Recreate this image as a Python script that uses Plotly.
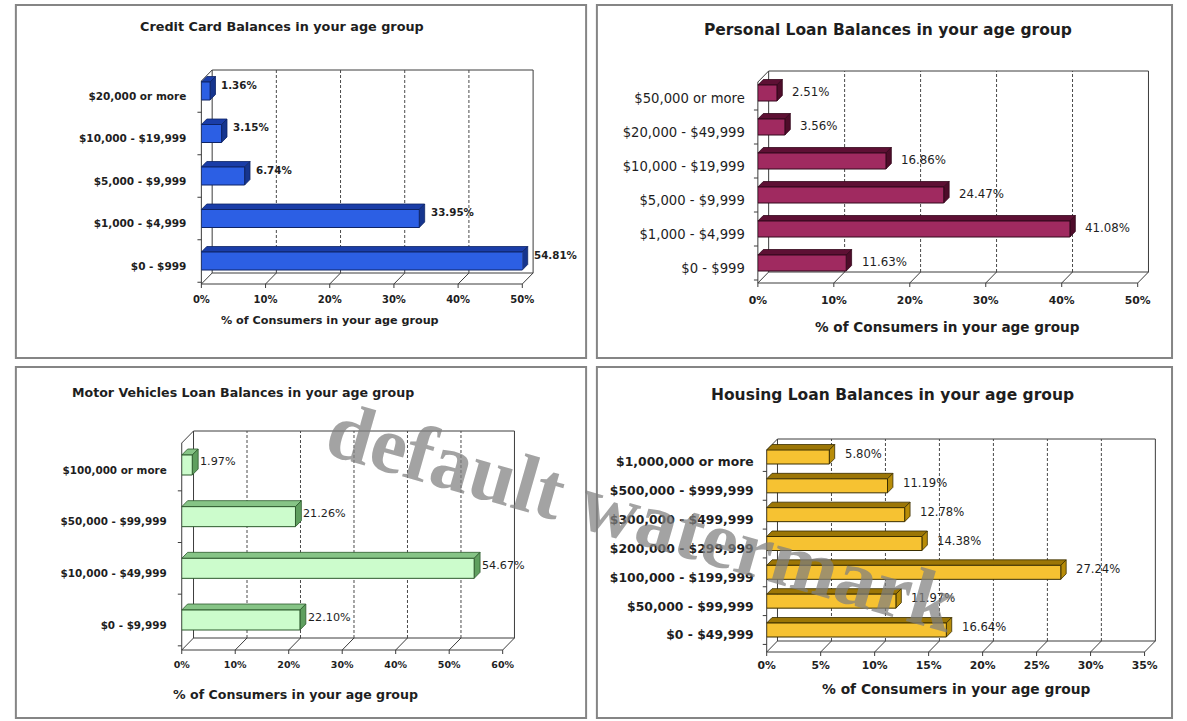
import plotly.graph_objects as go

W, H = 1187, 721

# ---------------- data (categories listed bottom to top) ----------------
cc_cats = ["$0 - $999", "$1,000 - $4,999", "$5,000 - $9,999",
           "$10,000 - $19,999", "$20,000 or more"]
cc_vals = [54.81, 33.95, 6.74, 3.15, 1.36]

pl_cats = ["$0 - $999", "$1,000 - $4,999", "$5,000 - $9,999",
           "$10,000 - $19,999", "$20,000 - $49,999", "$50,000 or more"]
pl_vals = [11.63, 41.08, 24.47, 16.86, 3.56, 2.51]

mv_cats = ["$0 - $9,999", "$10,000 - $49,999", "$50,000 - $99,999",
           "$100,000 or more"]
mv_vals = [22.10, 54.67, 21.26, 1.97]

hl_cats = ["$0 - $49,999", "$50,000 - $99,999", "$100,000 - $199,999",
           "$200,000 - $299,999", "$300,000 - $499,999",
           "$500,000 - $999,999", "$1,000,000 or more"]
hl_vals = [16.64, 11.97, 27.24, 14.38, 12.78, 11.19, 5.80]

axis_title = "% of Consumers in your age group"
watermark = "default watermark"

SANS = "DejaVu Sans, Verdana, sans-serif"
SERIF = "Liberation Serif, Times New Roman, serif"
INK = "#1e1e1e"

panels = [
    dict(title="Credit Card Balances in your age group", cats=cc_cats, vals=cc_vals,
         xmax=50, step=10,
         face="#2c5fe4", top="#1a3da8", side="#16358e", edge="#0e2466",
         frame=(7, 5, 588, 358), x0=196, x1=523, ybot=284, ytop=81,
         ddx=11, ddy=11, cb=261, ct=91, bar_h=18,
         title_xy=(278, 27), title_size=12.8, at_xy=(327, 320), at_size=11.2,
         tick_size=10, tick_w=700, cat_size=10.5, cat_w=700,
         val_size=10.3, val_w=700, val_gap=4, val_dy=6, xstand=8, ystand=14),
    dict(title="Personal Loan Balances in your age group", cats=pl_cats, vals=pl_vals,
         xmax=50, step=10,
         face="#a02a60", top="#5e1034", side="#4e0c2a", edge="#33081c",
         frame=(599, 5, 1185, 358), x0=763, x1=1150, ybot=283, ytop=82,
         ddx=11, ddy=11, cb=263, ct=93, bar_h=16,
         title_xy=(896, 30), title_size=15.5, at_xy=(956, 327), at_size=13.6,
         tick_size=10.8, tick_w=700, cat_size=13.2, cat_w=400,
         val_size=11.8, val_w=400, val_gap=8, val_dy=1, xstand=9, ystand=12),
    dict(title="Motor Vehicles Loan Balances in your age group", cats=mv_cats, vals=mv_vals,
         xmax=60, step=10,
         face="#ccfccc", top="#86c486", side="#5f9f5f", edge="#2d5a2d",
         frame=(7, 367, 588, 718), x0=176, x1=503, ybot=650, ytop=443,
         ddx=12, ddy=12, cb=620, ct=465, bar_h=20,
         title_xy=(238, 392), title_size=12.6, at_xy=(292, 694), at_size=12.6,
         tick_size=9.5, tick_w=700, cat_size=10.4, cat_w=700,
         val_size=11.2, val_w=400, val_gap=0, val_dy=3, xstand=7, ystand=14),
    dict(title="Housing Loan Balances in your age group", cats=hl_cats, vals=hl_vals,
         xmax=35, step=5,
         face="#f6c232", top="#9c7606", side="#b88c08", edge="#3a2e00",
         frame=(599, 367, 1185, 718), x0=772, x1=1157, ybot=652, ytop=450,
         ddx=11, ddy=11, cb=630, ct=457, bar_h=14,
         title_xy=(900, 395), title_size=15.5, at_xy=(965, 689), at_size=13.8,
         tick_size=10.8, tick_w=700, cat_size=12.4, cat_w=700,
         val_size=11.6, val_w=400, val_gap=8, val_dy=3, xstand=5, ystand=12),
]

fig = go.Figure()
layout = dict(width=W, height=H, margin=dict(l=0, r=0, t=0, b=0),
              paper_bgcolor="white", plot_bgcolor="rgba(0,0,0,0)",
              showlegend=False, annotations=[], shapes=[])


def ax_names(k):
    return ("xaxis" if k == 1 else f"xaxis{k}", "yaxis" if k == 1 else f"yaxis{k}",
            "x" if k == 1 else f"x{k}", "y" if k == 1 else f"y{k}")


PAD = 6
for i, p in enumerate(panels):
    n = len(p["cats"])
    xmax = p["xmax"]
    sx = (p["x1"] - p["x0"]) / xmax
    sy = (p["cb"] - p["ct"]) / (n - 1)
    lo = -(p["ybot"] - p["cb"]) / sy
    hi = (n - 1) + (p["ct"] - p["ytop"]) / sy
    DX, DY = p["ddx"] / sx, p["ddy"] / sy
    bDX, bDY = DX * 0.5, DY * 0.5
    ticks = list(range(0, xmax + 1, p["step"]))

    # decoration subplot (walls, floor, bar depth faces)
    kd, kf = 2 * i + 1, 2 * i + 2
    dxa, dya, dx, dy = ax_names(kd)
    fxa, fya, fx, fy = ax_names(kf)
    layout[dxa] = dict(domain=[(p["x0"] - PAD) / W, (p["x1"] + p["ddx"] + PAD) / W],
                       range=[-PAD / sx, xmax + DX + PAD / sx], visible=False,
                       anchor=dy, fixedrange=True)
    layout[dya] = dict(domain=[1 - (p["ybot"] + PAD) / H, 1 - (p["ytop"] - p["ddy"] - PAD) / H],
                       range=[lo - PAD / sy, hi + DY + PAD / sy], visible=False,
                       anchor=dx, fixedrange=True)

    lx, ly = [], []

    def seg(xs, ys):
        lx.extend(list(xs) + [None])
        ly.extend(list(ys) + [None])

    seg([0, 0], [lo, hi])                                   # front left axis
    seg([0, DX], [hi, hi + DY])                             # side wall top edge
    seg([DX, xmax + DX, xmax + DX, DX, DX],
        [lo + DY, lo + DY, hi + DY, hi + DY, lo + DY])      # back wall
    seg([0, xmax], [lo, lo])                                # floor front edge
    for t in ticks:                                         # floor depth ticks
        seg([t, t + DX], [lo, lo + DY])
    tk = 4 / sx
    for b in [k - 0.5 for k in range(n + 1)]:
        if lo <= b <= hi:
            seg([-tk, 0], [b, b])
    for t in ticks:
        seg([t, t], [lo, lo - 4 / sy])
    fig.add_trace(go.Scatter(x=lx, y=ly, mode="lines", xaxis=dx, yaxis=dy,
                             line=dict(color="#3c3c3c", width=1), hoverinfo="skip"))
    gx, gy = [], []
    for t in ticks[1:-1]:
        gx += [t + DX, t + DX, None]
        gy += [lo + DY, hi + DY, None]
    fig.add_trace(go.Scatter(x=gx, y=gy, mode="lines", xaxis=dx, yaxis=dy,
                             line=dict(color="#4a4a4a", width=1, dash="3px,2px"),
                             hoverinfo="skip"))

    # bar top and side faces
    bw = p["bar_h"] / sy
    tx, ty, sxs, sys_ = [], [], [], []
    for c, v in enumerate(p["vals"]):
        ve = min(v, xmax)
        t0 = c + bw / 2
        tx += [0, ve, ve + bDX, bDX, 0, None]
        ty += [t0, t0, t0 + bDY, t0 + bDY, t0, None]
        b0 = c - bw / 2
        sxs += [ve, ve + bDX, ve + bDX, ve, ve, None]
        sys_ += [b0, b0 + bDY, t0 + bDY, t0, b0, None]
    fig.add_trace(go.Scatter(x=tx, y=ty, mode="lines", fill="toself", fillcolor=p["top"],
                             line=dict(color=p["edge"], width=0.8), xaxis=dx, yaxis=dy,
                             hoverinfo="skip"))
    fig.add_trace(go.Scatter(x=sxs, y=sys_, mode="lines", fill="toself", fillcolor=p["side"],
                             line=dict(color=p["edge"], width=0.8), xaxis=dx, yaxis=dy,
                             hoverinfo="skip"))

    # front plane subplot: bar faces and tick labels
    layout[fxa] = dict(domain=[p["x0"] / W, p["x1"] / W], range=[0, xmax], anchor=fy,
                       tickvals=ticks, ticktext=[f"{t}%" for t in ticks],
                       showgrid=False, zeroline=False, showline=False, ticks="",
                       ticklabelstandoff=p["xstand"], fixedrange=True,
                       tickfont=dict(family=SANS, size=p["tick_size"], color=INK,
                                     weight=p["tick_w"]))
    layout[fya] = dict(domain=[1 - p["ybot"] / H, 1 - p["ytop"] / H], range=[lo, hi],
                       anchor=fx, tickvals=[c - 5 / sy for c in range(n)],
                       ticktext=p["cats"], showgrid=False, zeroline=False,
                       showline=False, ticks="", ticklabelstandoff=p["ystand"],
                       fixedrange=True,
                       tickfont=dict(family=SANS, size=p["cat_size"], color=INK,
                                     weight=p["cat_w"]))
    fig.add_trace(go.Bar(x=p["vals"], y=list(range(n)), orientation="h", width=bw,
                         marker=dict(color=p["face"], line=dict(color=p["edge"], width=1)),
                         xaxis=fx, yaxis=fy, hoverinfo="skip"))

    # value labels
    for c, v in enumerate(p["vals"]):
        layout["annotations"].append(dict(
            x=min(v, xmax) + bDX, y=c, xref=dx, yref=dy, text=f"{v:.2f}%",
            showarrow=False, xanchor="left", yanchor="middle",
            xshift=p["val_gap"], yshift=p["val_dy"],
            font=dict(family=SANS, size=p["val_size"], color=INK, weight=p["val_w"])))

    # titles
    layout["annotations"].append(dict(
        x=p["title_xy"][0] / W, y=1 - p["title_xy"][1] / H, xref="paper", yref="paper",
        text=p["title"], showarrow=False, xanchor="center", yanchor="middle",
        font=dict(family=SANS, size=p["title_size"], color=INK, weight=700)))
    layout["annotations"].append(dict(
        x=p["at_xy"][0] / W, y=1 - p["at_xy"][1] / H, xref="paper", yref="paper",
        text=axis_title, showarrow=False, xanchor="center", yanchor="middle",
        font=dict(family=SANS, size=p["at_size"], color=INK, weight=700)))

    # panel frame
    fx0, fy0, fx1, fy1 = p["frame"]
    layout["shapes"].append(dict(type="rect", xref="paper", yref="paper",
                                 x0=fx0 / W, x1=fx1 / W, y0=1 - fy0 / H, y1=1 - fy1 / H,
                                 line=dict(color="#858585", width=2)))

layout["annotations"].append(dict(
    x=645 / W, y=1 - 517 / H, xref="paper", yref="paper", text=watermark,
    showarrow=False, textangle=16, xanchor="center", yanchor="middle",
    font=dict(family=SERIF, size=81, color="rgba(128,128,128,0.72)", weight=700)))

fig.update_layout(**layout)
fig.write_html("out.html")
